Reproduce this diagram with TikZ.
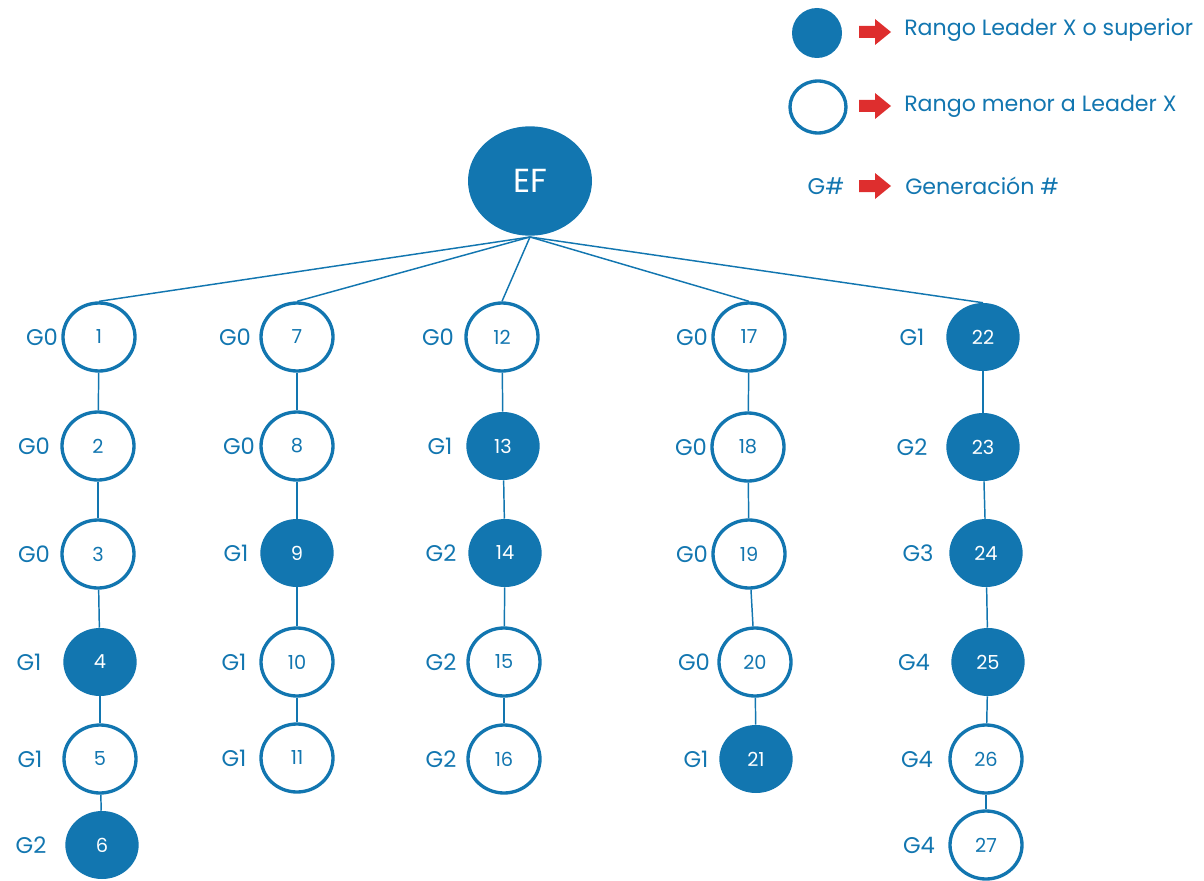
\documentclass[tikz,border=0pt]{standalone}
\usepackage{fontspec}
\setmainfont{Poppins}
\usetikzlibrary{shapes.geometric}
\definecolor{myblue}{RGB}{18,118,176}
\definecolor{myred}{RGB}{222,46,46}
\tikzset{
  px/.style={x=0.75pt,y=-0.75pt},
  onode/.style={ellipse,draw=myblue,line width=2.5pt,fill=white,minimum width=54pt,minimum height=51pt,inner sep=0pt,text=myblue,font=\fontsize{14.5}{14.5}\selectfont},
  fnode/.style={ellipse,fill=myblue,minimum width=55pt,minimum height=51pt,inner sep=0pt,text=white,font=\fontsize{14.5}{14.5}\selectfont},
  glabel/.style={text=myblue,font=\fontsize{17}{17}\selectfont,inner sep=0pt},
  legtext/.style={text=myblue,font=\fontsize{16.6}{17}\selectfont,inner sep=0pt,anchor=west},
  conn/.style={draw=myblue,line width=1.1pt},
  redarrow/.style={fill=myred,draw=none}
}
\begin{document}
\begin{tikzpicture}[px]
\useasboundingbox (0,0) rectangle (1204,881);
% root
\node[ellipse,fill=myblue,minimum width=93pt,minimum height=82pt,inner sep=0pt,text=white,font=\fontsize{25}{25}\selectfont] (EF) at (530,181) {EF};
% column 1
\node[onode] (n1) at (99,337) {1};
\node[onode] (n2) at (98,446) {2};
\node[onode] (n3) at (98,554) {3};
\node[fnode] (n4) at (100,662) {4};
\node[onode] (n5) at (100,759) {5};
\node[fnode] (n6) at (102,845) {6};
% column 2
\node[onode] (n7) at (297,337) {7};
\node[onode] (n8) at (297,446) {8};
\node[fnode] (n9) at (297,553) {9};
\node[onode] (n10) at (297,662) {10};
\node[onode] (n11) at (297,758) {11};
% column 3
\node[onode] (n12) at (502,337) {12};
\node[fnode] (n13) at (503,446) {13};
\node[fnode] (n14) at (505,553) {14};
\node[onode] (n15) at (504,662) {15};
\node[onode] (n16) at (504,759) {16};
% column 4
\node[onode] (n17) at (749,337) {17};
\node[onode] (n18) at (748,447) {18};
\node[onode] (n19) at (749,554) {19};
\node[onode] (n20) at (755,662) {20};
\node[fnode] (n21) at (756,759) {21};
% column 5
\node[fnode] (n22) at (983,337) {22};
\node[fnode] (n23) at (983,447) {23};
\node[fnode] (n24) at (986,553) {24};
\node[fnode] (n25) at (988,662) {25};
\node[onode] (n26) at (986,759) {26};
\node[onode] (n27) at (986,845) {27};
% generation labels
\node[glabel] (g1) at (42,337) {G0};
\node[glabel] (g2) at (34,446) {G0};
\node[glabel] (g3) at (34,554) {G0};
\node[glabel] (g4) at (29,662) {G1};
\node[glabel] (g5) at (30,759) {G1};
\node[glabel] (g6) at (31,845) {G2};
\node[glabel] (g7) at (235,337) {G0};
\node[glabel] (g8) at (239,446) {G0};
\node[glabel] (g9) at (236,553) {G1};
\node[glabel] (g10) at (234,662) {G1};
\node[glabel] (g11) at (234,758) {G1};
\node[glabel] (g12) at (438,337) {G0};
\node[glabel] (g13) at (440,446) {G1};
\node[glabel] (g14) at (441,553) {G2};
\node[glabel] (g15) at (441,662) {G2};
\node[glabel] (g16) at (441,759) {G2};
\node[glabel] (g17) at (692,337) {G0};
\node[glabel] (g18) at (691,447) {G0};
\node[glabel] (g19) at (692,554) {G0};
\node[glabel] (g20) at (694,662) {G0};
\node[glabel] (g21) at (696,759) {G1};
\node[glabel] (g22) at (912,337) {G1};
\node[glabel] (g23) at (912,447) {G2};
\node[glabel] (g24) at (918,553) {G3};
\node[glabel] (g25) at (914,662) {G4};
\node[glabel] (g26) at (917,759) {G4};
\node[glabel] (g27) at (919,845) {G4};
% connectors
\coordinate (efb) at (530,237);
\foreach \t in {n1,n7,n12,n17,n22} \draw[conn] (efb) -- (\t.north);
\foreach \a/\b in {n1/n2,n2/n3,n3/n4,n4/n5,n5/n6,n7/n8,n8/n9,n9/n10,n10/n11,n12/n13,n13/n14,n14/n15,n15/n16,n17/n18,n18/n19,n19/n20,n20/n21,n22/n23,n23/n24,n24/n25,n25/n26,n26/n27}
  \draw[conn] (\a) -- (\b);
% legend
\node[ellipse,fill=myblue,minimum width=37.5pt,minimum height=37.5pt,inner sep=0pt] (lf) at (817,33) {};
\node[ellipse,draw=myblue,line width=2.5pt,minimum width=42pt,minimum height=39pt,inner sep=0pt] (lo) at (818,107) {};
\node[glabel] (lg) at (826,186) {G\#};
\foreach \y in {32,106,186}
  \fill[redarrow] (859,\y-6) -- (875,\y-6) -- (875,\y-13) -- (891,\y) -- (875,\y+13) -- (875,\y+6) -- (859,\y+6) -- cycle;
\node[legtext] (t1) at (904,30) {Rango Leader X o superior};
\node[legtext] (t2) at (904,106) {Rango menor a Leader X};
\node[legtext] (t3) at (905,186) {Generación \#};
\end{tikzpicture}
\end{document}
